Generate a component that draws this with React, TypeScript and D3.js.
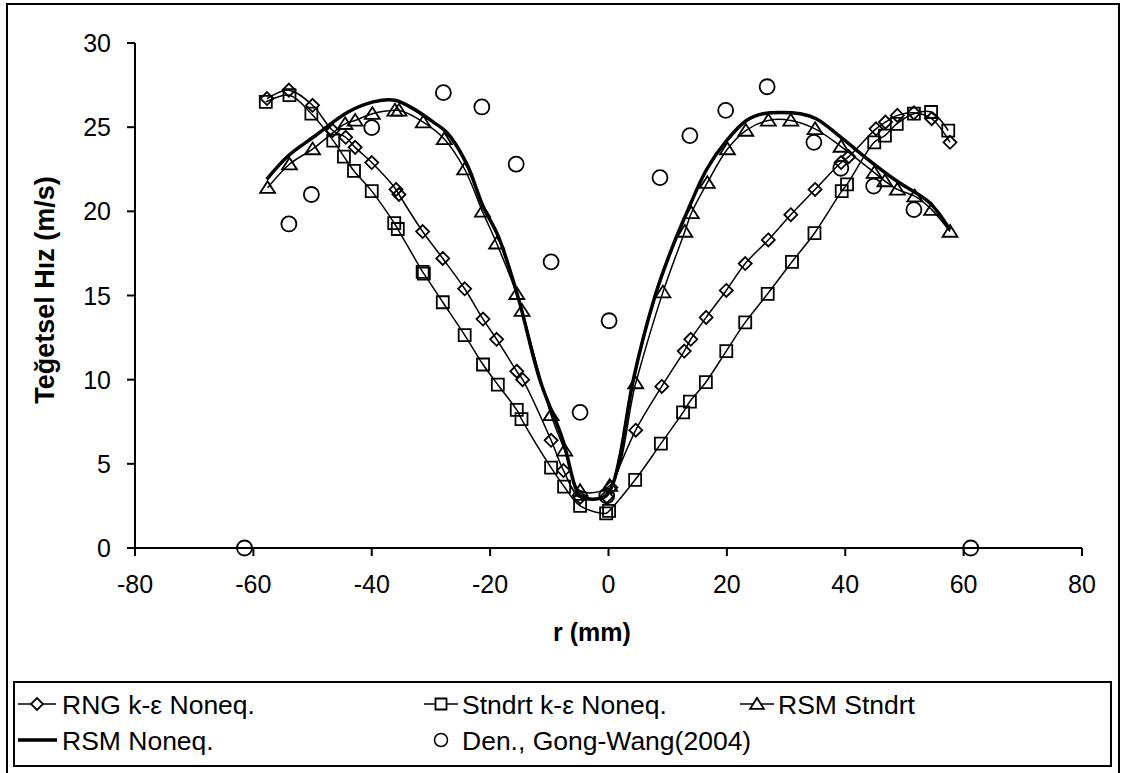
import React from "react";
import * as d3 from "d3";

// ---------- data ----------
const xTicks = [-80, -60, -40, -20, 0, 20, 40, 60, 80];
const yTicks = [0, 5, 10, 15, 20, 25, 30];

const rngX = [-57.7, -54.0, -50.0, -46.6, -44.4, -42.8, -40.0, -35.9, -35.4, -31.4, -28.0, -24.3, -21.2, -18.9, -15.5, -14.5, -9.7, -7.6, -4.8, -0.3, 0.4, 4.6, 9.0, 12.8, 13.9, 16.5, 19.9, 23.1, 27.0, 30.8, 34.9, 39.3, 40.6, 45.2, 46.8, 48.8, 51.6, 54.6, 57.7];
const rngY = [26.7, 27.2, 26.3, 24.8, 24.4, 23.8, 22.9, 21.3, 21.0, 18.8, 17.2, 15.4, 13.6, 12.4, 10.5, 10.0, 6.4, 4.6, 3.0, 3.05, 3.6, 7.0, 9.6, 11.7, 12.4, 13.7, 15.3, 16.9, 18.3, 19.8, 21.3, 22.9, 23.25, 24.9, 25.3, 25.7, 25.85, 25.5, 24.1];

const stdX = [-57.9, -53.9, -50.2, -46.5, -44.7, -43.0, -40.0, -36.2, -35.6, -31.4, -31.2, -28.0, -24.3, -21.2, -18.7, -15.5, -14.7, -9.7, -7.5, -4.8, -0.4, 0.1, 4.5, 8.85, 12.6, 13.75, 16.45, 19.9, 23.1, 26.9, 31.0, 34.8, 39.4, 40.3, 44.9, 46.7, 48.7, 51.6, 54.5, 57.4];
const stdY = [26.5, 26.9, 25.8, 24.2, 23.25, 22.4, 21.2, 19.3, 18.95, 16.4, 16.3, 14.6, 12.65, 10.9, 9.7, 8.2, 7.66, 4.77, 3.65, 2.5, 2.06, 2.2, 4.05, 6.2, 8.06, 8.7, 9.85, 11.7, 13.4, 15.1, 17.0, 18.7, 21.2, 21.6, 24.1, 24.5, 25.2, 25.8, 25.9, 24.8];

const rsmX = [-57.6, -53.9, -50.0, -44.5, -42.8, -39.9, -36.1, -35.4, -31.3, -27.75, -24.3, -21.3, -18.9, -15.5, -14.6, -9.7, -7.4, -4.8, 0.2, 4.6, 9.2, 12.9, 14.0, 16.7, 20.1, 23.2, 27.0, 30.8, 34.9, 39.3, 44.9, 46.7, 48.8, 51.75, 54.6, 57.7];
const rsmY = [21.4, 22.8, 23.7, 25.2, 25.4, 25.8, 26.0, 26.0, 25.3, 24.3, 22.5, 20.0, 18.1, 15.1, 14.1, 7.9, 5.8, 3.4, 3.7, 9.8, 15.2, 18.8, 19.9, 21.7, 23.7, 24.8, 25.4, 25.4, 24.9, 23.85, 22.3, 21.8, 21.3, 20.9, 20.1, 18.8];

const rsmNX = [-57.75, -54.1, -49.9, -44.0, -39.75, -36.1, -33.0, -29.6, -27.35, -24.0, -21.2, -18.6, -15.2, -11.6, -7.7, -5.4, -4.3, -0.95, 0.5, 1.9, 4.2, 7.8, 10.6, 13.2, 16.6, 19.95, 23.3, 26.1, 32.4, 35.1, 39.6, 43.6, 48.7, 54.3, 57.7];
const rsmNY = [21.9, 23.3, 24.4, 25.9, 26.5, 26.6, 26.1, 25.3, 24.7, 22.85, 20.3, 18.5, 14.8, 10.0, 6.4, 3.45, 3.0, 3.0, 3.6, 5.4, 10.0, 14.9, 17.7, 19.9, 22.5, 24.2, 25.4, 25.8, 25.8, 25.5, 24.3, 23.15, 21.8, 20.5, 18.9];

const expX = [-61.5, -54.0, -50.2, -40.0, -27.9, -21.4, -15.6, -9.7, -4.8, -0.3, 0.1, 8.7, 13.75, 19.8, 26.8, 34.7, 39.25, 44.8, 51.6, 61.2];
const expY = [0.0, 19.25, 21.0, 24.97, 27.05, 26.2, 22.8, 17.0, 8.06, 3.1, 13.5, 22.0, 24.5, 26.0, 27.4, 24.1, 22.56, 21.5, 20.1, 0.0];

const legendNames = ["RNG k-ε Noneq.", "Stndrt k-ε Noneq.", "RSM Stndrt", "RSM Noneq.", "Den., Gong-Wang(2004)"];

const FONT = "'Liberation Sans', Arial, sans-serif";

function diamond(cx: number, cy: number, r: number) {
  return `M${cx},${cy - r}L${cx + r},${cy}L${cx},${cy + r}L${cx - r},${cy}Z`;
}
function square(cx: number, cy: number, r: number) {
  return `M${cx - r},${cy - r}H${cx + r}V${cy + r}H${cx - r}Z`;
}
function triangle(cx: number, cy: number, r: number) {
  return `M${cx},${cy - r}L${cx + r * 1.15},${cy + r * 0.8}L${cx - r * 1.15},${cy + r * 0.8}Z`;
}

export default function App() {
  const W = 1124;
  const H = 773;
  const x = d3.scaleLinear().domain([-80, 80]).range([135, 1082]);
  const y = d3.scaleLinear().domain([0, 30]).range([548, 43]);

  const line = d3
    .line<[number, number]>()
    .x((d) => x(d[0]))
    .y((d) => y(d[1]))
    .curve(d3.curveCatmullRom.alpha(0.5));

  const zip = (a: number[], b: number[]) => a.map((v, i) => [v, b[i]] as [number, number]);
  const rng = zip(rngX, rngY);
  const std = zip(stdX, stdY);
  const rsm = zip(rsmX, rsmY);
  const rsmN = zip(rsmNX, rsmNY);
  const exp = zip(expX, expY);

  const x0 = x(-80);
  const yBase = y(0);

  // legend layout
  const lgX = 14, lgY = 682, lgW = 1097, lgH = 84;
  const row1 = 704, row2 = 740;
  const lineStart = [18, 424, 740];
  const textStart = [62, 462, 778];
  const LFS = 26.5;

  return (
    <svg width={W} height={H} style={{ position: "absolute", left: 0, top: 0, background: "#fff" }} fontFamily={FONT}>
      <rect x={0} y={0} width={W} height={H} fill="#fff" />
      <rect x={7} y={4} width={1112} height={800} fill="none" stroke="#000" strokeWidth={2} />

      {/* axes */}
      <line x1={x0} x2={x0} y1={y(30)} y2={yBase} stroke="#000" strokeWidth={2} />
      <line x1={x0} x2={x(80)} y1={yBase} y2={yBase} stroke="#000" strokeWidth={2} />
      {yTicks.map((t) => (
        <g key={"y" + t}>
          <line x1={x0 - 8} x2={x0} y1={y(t)} y2={y(t)} stroke="#000" strokeWidth={2} />
          <text x={x0 - 24} y={y(t)} dy="0.36em" textAnchor="end" fontSize={25}>
            {t}
          </text>
        </g>
      ))}
      {xTicks.map((t) => (
        <g key={"x" + t}>
          <line x1={x(t)} x2={x(t)} y1={yBase} y2={yBase + 8} stroke="#000" strokeWidth={2} />
          <text x={x(t)} y={yBase + 45} textAnchor="middle" fontSize={25}>
            {t}
          </text>
        </g>
      ))}
      <text x={592} y={641} textAnchor="middle" fontSize={25} fontWeight="bold">
        r (mm)
      </text>
      <text transform={`translate(54,290) rotate(-90)`} textAnchor="middle" fontSize={27} fontWeight="bold">
        Teğetsel Hız (m/s)
      </text>

      {/* lines */}
      <path d={line(rng) || ""} fill="none" stroke="#000" strokeWidth={1.5} />
      <path d={line(std) || ""} fill="none" stroke="#000" strokeWidth={1.5} />
      <path d={line(rsm) || ""} fill="none" stroke="#000" strokeWidth={1.5} />
      <path d={line(rsmN) || ""} fill="none" stroke="#000" strokeWidth={3.5} />

      {/* markers */}
      {rng.map((d, i) => (
        <path key={"r" + i} d={diamond(x(d[0]), y(d[1]), 6.5)} fill="none" stroke="#000" strokeWidth={1.8} />
      ))}
      {std.map((d, i) => (
        <path key={"s" + i} d={square(x(d[0]), y(d[1]), 6)} fill="none" stroke="#000" strokeWidth={1.8} />
      ))}
      {rsm.map((d, i) => (
        <path key={"t" + i} d={triangle(x(d[0]), y(d[1]), 6.5)} fill="none" stroke="#000" strokeWidth={1.8} />
      ))}
      {exp.map((d, i) => (
        <circle key={"c" + i} cx={x(d[0])} cy={y(d[1])} r={7.5} fill="none" stroke="#000" strokeWidth={1.8} />
      ))}

      {/* legend */}
      <rect x={lgX} y={lgY} width={lgW} height={lgH} fill="#fff" stroke="#000" strokeWidth={2} />
      {/* row 1 */}
      <line x1={lineStart[0]} x2={lineStart[0] + 38} y1={row1} y2={row1} stroke="#000" strokeWidth={1.5} />
      <path d={diamond(lineStart[0] + 19, row1, 6)} fill="#fff" stroke="#000" strokeWidth={1.8} />
      <text x={textStart[0]} y={row1} dy="0.36em" fontSize={LFS}>{legendNames[0]}</text>

      <line x1={lineStart[1]} x2={lineStart[1] + 34} y1={row1} y2={row1} stroke="#000" strokeWidth={1.5} />
      <path d={square(lineStart[1] + 17, row1, 5.5)} fill="#fff" stroke="#000" strokeWidth={1.8} />
      <text x={textStart[1]} y={row1} dy="0.36em" fontSize={LFS}>{legendNames[1]}</text>

      <line x1={lineStart[2]} x2={lineStart[2] + 34} y1={row1} y2={row1} stroke="#000" strokeWidth={1.5} />
      <path d={triangle(lineStart[2] + 17, row1, 6)} fill="#fff" stroke="#000" strokeWidth={1.8} />
      <text x={textStart[2]} y={row1} dy="0.36em" fontSize={LFS}>{legendNames[2]}</text>

      {/* row 2 */}
      <line x1={lineStart[0]} x2={lineStart[0] + 39} y1={row2} y2={row2} stroke="#000" strokeWidth={3.5} />
      <text x={textStart[0]} y={row2} dy="0.36em" fontSize={LFS}>{legendNames[3]}</text>

      <circle cx={lineStart[1] + 17} cy={row2} r={6.5} fill="#fff" stroke="#000" strokeWidth={1.5} />
      <text x={textStart[1]} y={row2} dy="0.36em" fontSize={LFS}>{legendNames[4]}</text>
    </svg>
  );
}
